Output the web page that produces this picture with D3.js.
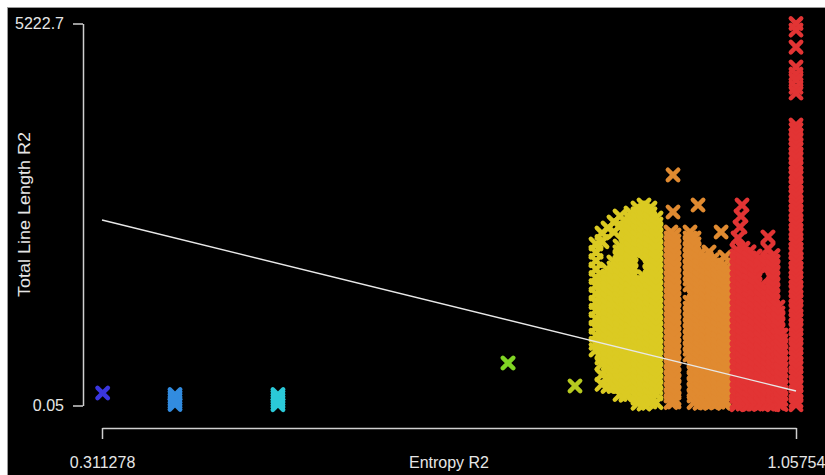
<!DOCTYPE html>
<html>
<head>
<meta charset="utf-8">
<script src="https://cdn.jsdelivr.net/npm/d3@7/dist/d3.min.js"></script>
<style>
  html, body { margin: 0; padding: 0; background: #ffffff; }
  svg { display: block; }
  text { font-family: "Liberation Sans", Arial, sans-serif; }
</style>
</head>
<body>
<svg id="chart" width="825" height="475"></svg>
<script>
// Axis ticks (only the extremes are labelled)
const xTicks = [0.311278, 1.05754];
const xTickLabels = ["0.311278", "1.05754"];
const yTicks = [0.05, 5222.7];
const yTickLabels = ["0.05", "5222.7"];

const xTitle = "Entropy R2";
const yTitle = "Total Line Length R2";

// Least-squares fit line, evaluated at the x extremes
const fitX = [0.311278, 1.05754];
const fitY = [2536, 198];

// Observations grouped by colour band; each group lists entropy columns
// and the line lengths observed at each column.
const blueCols = [0.3120];
const blueVals = [[171]];

const azureCols = [0.3898];
const azureVals = [[150, 115, 80, 45, 15]];

const cyanCols = [0.5005];
const cyanVals = [[150, 118, 82, 48, 12]];

const greenCols = [0.7479];
const greenVals = [[581]];

const limeCols = [0.8199];
const limeVals = [[267]];

const yellowCols = [0.8425, 0.8489, 0.8554, 0.8618, 0.8683, 0.8747, 0.8801, 0.8876, 0.8941, 0.9005, 0.9070];
const yellowVals = [
  [2208, 2095, 1980, 1865, 1750, 1640, 1525, 1410, 1300, 1185, 1070, 960, 850, 760],
  [2358, 2240, 1771, 1690, 1610, 1530, 1450, 1370, 1290, 1210, 1130, 1050, 970, 890, 810, 730, 650, 570, 420, 290],
  [2427, 1850, 1770, 1690, 1610, 1530, 1450, 1370, 1290, 1210, 1130, 1050, 970, 890, 810, 730, 650, 570, 500, 380, 260],
  [2509, 2372, 1962, 1880, 1800, 1720, 1640, 1560, 1480, 1400, 1320, 1240, 1160, 1080, 1000, 920, 840, 760, 680, 600, 520, 440, 360, 260],
  [2591, 2460, 2181, 2100, 2020, 1940, 1860, 1780, 1700, 1620, 1540, 1460, 1380, 1300, 1220, 1140, 1060, 980, 900, 820, 740, 660, 580, 500, 420, 340, 260, 150],
  [2509, 2430, 2350, 2270, 2190, 2110, 2030, 1950, 1870, 1790, 1710, 1630, 1550, 1470, 1390, 1310, 1230, 1150, 1070, 990, 910, 830, 750, 670, 590, 510, 430, 350, 270, 190, 140],
  [2632, 2550, 2470, 2390, 2310, 2230, 2150, 2070, 1990, 1910, 1830, 1750, 1670, 1590, 1510, 1430, 1350, 1270, 1190, 1110, 1030, 950, 870, 830],
  [2700, 2620, 2540, 2460, 2380, 2300, 2220, 2140, 2080, 1700, 1620, 1540, 1460, 1380, 1300, 1220, 1140, 1060, 980, 900, 820, 740, 660, 580, 500, 420, 340, 260, 180, 100, 30],
  [2741, 2660, 2580, 2500, 2420, 2340, 2260, 2180, 2120, 1760, 1680, 1600, 1520, 1440, 1360, 1280, 1200, 1120, 1040, 960, 880, 800, 720, 640, 560, 480, 400, 320, 240, 160, 90, 20],
  [2700, 2620, 2540, 2460, 2380, 2300, 2220, 2140, 2060, 1980, 1900, 1820, 1740, 1660, 1580, 1500, 1420, 1340, 1260, 1180, 1100, 1020, 940, 860, 780, 700, 620, 540, 460, 380, 300, 220, 140, 50],
  [2563, 2480, 2400, 2320, 2240, 2160, 2080, 2000, 1920, 1840, 1760, 1680, 1600, 1520, 1440, 1360, 1280, 1200, 1120, 1040, 960, 880, 800, 720, 640, 560, 480, 400, 320, 240, 160, 40]
];

const orangeCols = [0.9231, 0.9264, 0.9436, 0.9479, 0.9543, 0.9608, 0.9672, 0.9737, 0.9801, 0.9253, 0.9522, 0.9640, 0.9770, 0.9812];
const orangeVals = [
  [2372, 2290, 2210, 2130, 2050, 1970, 1890, 1810, 1730, 1650, 1570, 1490, 1410, 1330, 1250, 1170, 1090, 1010, 930, 850, 770, 690, 610, 530, 450, 370, 290, 210, 130, 40],
  [2330, 2250, 2170, 2090, 2010, 1930, 1850, 1770, 1690, 1610, 1530, 1450, 1370, 1290, 1210, 1130, 1050, 970, 890, 810, 730, 650, 570, 490, 410, 330, 250, 170, 90, 50],
  [2372, 2290, 2210, 2130, 2050, 1970, 1890, 1810, 1730, 1650, 1410, 1330, 1250, 1170, 1090, 1010, 930, 850, 770, 690],
  [2290, 2210, 2130, 2050, 1970, 1890, 1810, 1730, 1650, 1570, 1490, 1410, 1330, 1250, 1170, 1090, 1010, 930, 850, 770, 690, 610, 530, 450, 370, 290, 210, 130, 40],
  [2071, 1990, 1910, 1830, 1750, 1670, 1590, 1510, 1430, 1350, 1270, 1190, 1110, 1030, 950, 870, 790, 710, 630, 550, 470, 390, 310, 230, 150, 30],
  [2017, 1940, 1860, 1780, 1700, 1620, 1540, 1460, 1380, 1300, 1220, 1140, 1060, 980, 900, 820, 740, 660, 580, 500, 420, 340, 260, 180, 100, 35],
  [1990, 1910, 1830, 1750, 1670, 1590, 1510, 1430, 1350, 1270, 1190, 1110, 1030, 950, 870, 790, 710, 630, 550, 470, 390, 310, 230, 150, 40],
  [1950, 1870, 1790, 1710, 1630, 1550, 1470, 1390, 1310, 1230, 1150, 1070, 990, 910, 830, 750, 670, 590, 510, 430, 350, 270, 190, 110, 45],
  [1921, 1840, 1760, 1680, 1600, 1520, 1440, 1360, 1280, 1200, 1120, 1040, 960, 880, 800, 720, 640, 560, 480, 400, 320, 240, 160, 80, 30],
  [3152, 2646],
  [2741],
  [2099],
  [2372],
  [2030]
];

const redCols = [0.9941, 1.0005, 1.0070, 1.0135, 1.0199, 1.0274, 1.0328, 1.0382, 1.0414, 0.9995, 0.9984, 0.9973, 0.9952, 1.05754];
const redVals = [
  [2126, 2045, 1965, 1885, 1805, 1725, 1645, 1565, 1485, 1405, 1325, 1245, 1165, 1085, 1005, 925, 845, 765, 685, 605, 525, 445, 365, 285, 205, 125, 45, 10],
  [2150, 2070, 1990, 1910, 1830, 1750, 1670, 1590, 1510, 1430, 1350, 1270, 1190, 1110, 1030, 950, 870, 790, 710, 630, 550, 470, 390, 310, 230, 150, 70, 20],
  [2100, 2020, 1940, 1860, 1780, 1700, 1620, 1540, 1460, 1380, 1300, 1220, 1140, 1060, 980, 900, 820, 740, 660, 580, 500, 420, 340, 260, 180, 100, 15],
  [2044, 1965, 1885, 1805, 1725, 1645, 1565, 1485, 1405, 1325, 1245, 1165, 1085, 1005, 925, 845, 765, 685, 605, 525, 445, 365, 285, 205, 125, 45, 20],
  [1990, 1910, 1640, 1560, 1480, 1400, 1320, 1240, 1160, 1080, 1000, 920, 840, 760, 680, 600, 520, 440, 360, 280, 200, 120, 40, 25],
  [2304, 2140, 1990, 1910, 1560, 1480, 1400, 1320, 1240, 1160, 1080, 1000, 920, 840, 760, 680, 600, 520, 440, 360, 280, 200, 120, 40, 20],
  [2050, 1970, 1890, 1810, 1730, 1650, 1570, 1490, 1410, 1330, 1250, 1170, 1090, 1010, 930, 850, 770, 690, 610, 530, 450, 370, 290, 210, 130, 50, 10],
  [1347, 1265, 1185, 1105, 1025, 945, 865, 785, 705, 625, 545, 465, 385, 305, 225, 145, 65, 30],
  [964, 885, 805, 725, 645, 565, 485, 405, 325, 245, 165, 85, 15],
  [2741],
  [2590],
  [2440],
  [2290],
  [5222.7, 5133, 4900, 4627, 4530, 4450, 4350, 4272,
   3835, 3772, 3701, 3644, 3571, 3512, 3440, 3383, 3310, 3254, 3181, 3123, 3050, 2994, 2921, 2863,
   2790, 2734, 2661, 2604, 2531, 2473, 2400, 2344, 2271, 2213, 2140, 2084, 2011, 1953, 1880, 1824,
   1751, 1693, 1620, 1564, 1491, 1433, 1360, 1304, 1231, 1173, 1100, 1044, 971, 913, 840, 784,
   711, 653, 580, 524, 451, 393, 320, 264, 191, 133, 60, 10]
];

const bandColors = ["#3a36e0", "#328ce0", "#2bc9d8", "#80d424", "#b6c920", "#dbca22", "#e08a30", "#e23434"];
const bandCols = [blueCols, azureCols, cyanCols, greenCols, limeCols, yellowCols, orangeCols, redCols];
const bandVals = [blueVals, azureVals, cyanVals, greenVals, limeVals, yellowVals, orangeVals, redVals];

const W = 825, H = 475;
const svg = d3.select("#chart");

// page frame and black plotting canvas
svg.append("rect").attr("x", 0).attr("y", 0).attr("width", W).attr("height", H).attr("fill", "#ffffff");
svg.append("rect").attr("x", 7.5).attr("y", 7.5).attr("width", W).attr("height", H)
  .attr("fill", "#000000").attr("stroke", "#9a9a9a").attr("stroke-width", 1);

const x = d3.scaleLinear().domain([xTicks[0], xTicks[1]]).range([102, 796]);
const y = d3.scaleLinear().domain([yTicks[0], yTicks[1]]).range([405.5, 23.5]);

// flatten groups into point records
const points = [];
bandCols.forEach((cols, g) => {
  cols.forEach((cx, c) => {
    bandVals[g][c].forEach(v => points.push({ x: cx, y: v, color: bandColors[g] }));
  });
});

// "x" shaped markers
const arm = 5.2;
const cross = `M${-arm},${-arm}L${arm},${arm}M${-arm},${arm}L${arm},${-arm}`;
svg.append("g")
  .selectAll("path")
  .data(points)
  .join("path")
  .attr("transform", d => `translate(${x(d.x)},${y(d.y)})`)
  .attr("d", cross)
  .attr("fill", "none")
  .attr("stroke", d => d.color)
  .attr("stroke-width", 4.5)
  .attr("stroke-linecap", "round");

// fitted trend line
const fit = fitX.map((v, i) => [v, fitY[i]]);
svg.append("path")
  .datum(fit)
  .attr("d", d3.line().x(d => x(d[0])).y(d => y(d[1])))
  .attr("fill", "none")
  .attr("stroke", "#e8e8e8")
  .attr("stroke-width", 1.4);

const axisColor = "#cfcfcf";
const textColor = "#e6e6e6";

const xAxis = svg.append("g")
  .attr("transform", "translate(0,428)")
  .call(d3.axisBottom(x).tickValues(xTicks).tickFormat((d, i) => xTickLabels[i])
    .tickSize(11).tickSizeOuter(0).tickPadding(17.5));

const yAxis = svg.append("g")
  .attr("transform", "translate(83,0)")
  .call(d3.axisLeft(y).tickValues(yTicks).tickFormat((d, i) => yTickLabels[i])
    .tickSize(10).tickSizeOuter(0).tickPadding(9));

[xAxis, yAxis].forEach(a => {
  a.select(".domain").attr("stroke", axisColor).attr("stroke-width", 1.5);
  a.selectAll(".tick line").attr("stroke", axisColor).attr("stroke-width", 1.5);
  a.selectAll(".tick text").attr("fill", textColor).attr("font-size", 16)
    .attr("font-family", "'Liberation Sans', Arial, sans-serif");
});

svg.append("text")
  .attr("x", 449).attr("y", 468)
  .attr("text-anchor", "middle")
  .attr("fill", textColor).attr("font-size", 16)
  .text(xTitle);

svg.append("text")
  .attr("transform", "translate(30,297) rotate(-90)")
  .attr("text-anchor", "start")
  .attr("fill", textColor).attr("font-size", 16.5)
  .attr("textLength", 165).attr("lengthAdjust", "spacingAndGlyphs")
  .text(yTitle);
</script>
</body>
</html>
